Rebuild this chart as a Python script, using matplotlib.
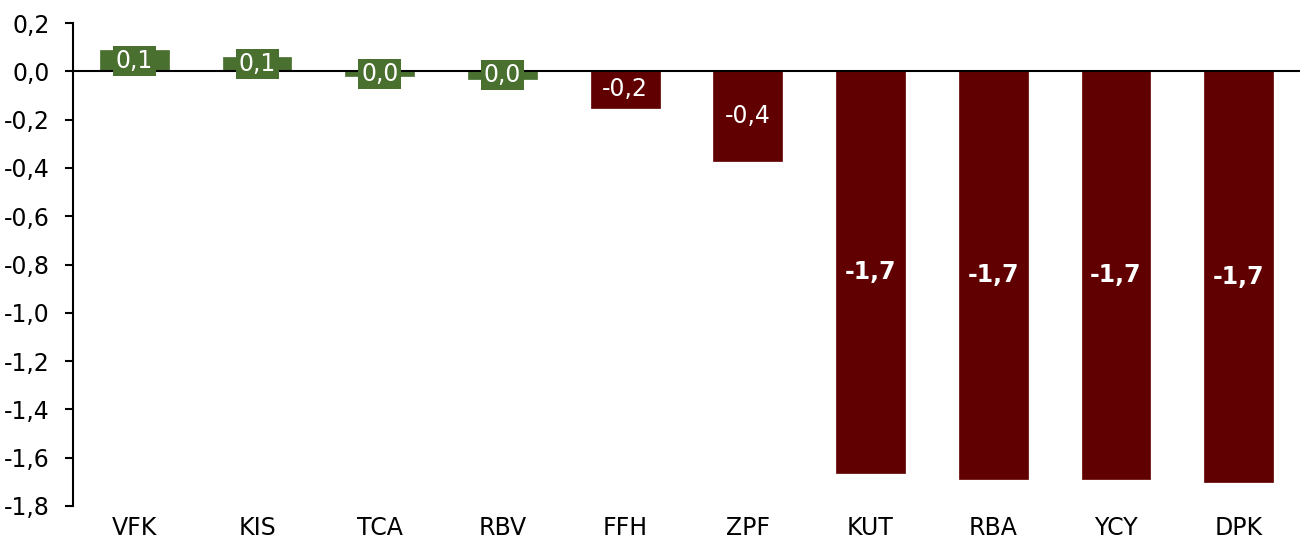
import matplotlib
matplotlib.use('Agg')
import matplotlib.pyplot as plt
from matplotlib.ticker import FuncFormatter

plt.rcParams['font.family'] = ['DejaVu Sans']

# data
categories = ['VFK', 'KIS', 'TCA', 'RBV', 'FFH', 'ZPF', 'KUT', 'RBA', 'YCY', 'DPK']
values = [0.088, 0.058, -0.020, -0.033, -0.150, -0.370, -1.662, -1.687, -1.688, -1.700]
labels = ['0,1', '0,1', '0,0', '0,0', '-0,2', '-0,4', '-1,7', '-1,7', '-1,7', '-1,7']

C_POS = '#4A7030'
C_NEG = '#600000'


def main():
    fig = plt.figure(figsize=(13.08, 5.41), dpi=100)
    ax = fig.add_axes([73 / 1308, 1 - 506 / 541, (1300 - 73) / 1308, (506 - 23) / 541])

    colors = [C_POS if i < 4 else C_NEG for i in range(len(values))]
    x = list(range(len(categories)))
    ax.bar(x, values, width=0.56, color=colors, edgecolor=colors, linewidth=0.5, zorder=2)
    ax.axhline(0, color='black', lw=1.5, zorder=3)

    for i, (v, lab, c) in enumerate(zip(values, labels, colors)):
        bold = abs(v) > 1
        ax.text(i, v / 2, lab, ha='center', va='center', color='white',
                fontsize=17, fontweight='bold' if bold else 'normal', zorder=4,
                bbox=dict(boxstyle='square,pad=0.12', fc=c, ec='none'))

    ax.set_xlim(-0.5, 9.5)
    ax.set_ylim(-1.8, 0.2)
    ax.set_yticks([0.2 - 0.2 * k for k in range(11)])
    ax.yaxis.set_major_formatter(FuncFormatter(lambda v, p: f'{v:.1f}'.replace('.', ',').replace('-0,0', '0,0')))
    ax.set_xticks(x)
    ax.set_xticklabels(categories)

    for s in ['top', 'right', 'bottom']:
        ax.spines[s].set_visible(False)
    ax.spines['left'].set_linewidth(1.5)
    ax.tick_params(axis='y', length=6, width=1.5, labelsize=17, pad=11)
    ax.tick_params(axis='x', length=0, labelsize=17, pad=7)

    fig.savefig('out.png', dpi=100, facecolor='white')
    plt.close()


if __name__ == '__main__':
    main()
